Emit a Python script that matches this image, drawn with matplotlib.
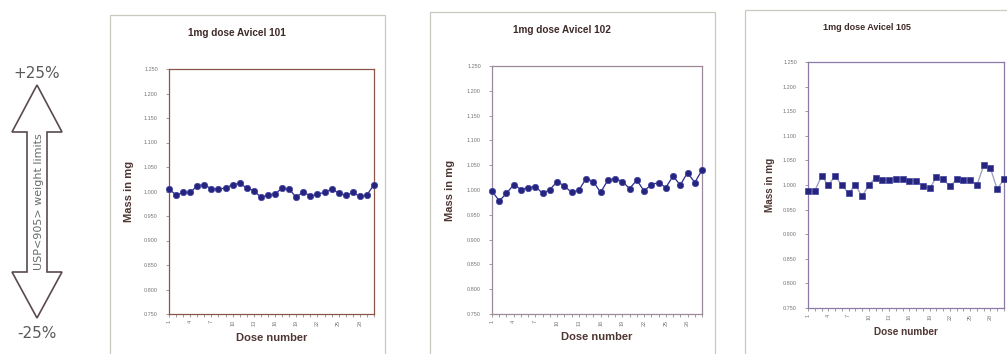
import numpy as np
import matplotlib.pyplot as plt
from matplotlib.patches import Polygon, Rectangle
from matplotlib.ticker import FixedLocator, FormatStrFormatter

# Data (mass per dose, mg)
doses = list(range(1, 31))
avicel_101 = [1.005, 0.993, 0.998, 0.998, 1.012, 1.014, 1.005, 1.005, 1.007, 1.014,
              1.017, 1.007, 1.002, 0.988, 0.993, 0.995, 1.007, 1.005, 0.988, 1.000,
              0.990, 0.995, 0.998, 1.005, 0.997, 0.992, 0.998, 0.990, 0.993, 1.014]
avicel_102 = [0.998, 0.978, 0.993, 1.011, 1.001, 1.005, 1.007, 0.993, 1.001, 1.017,
              1.008, 0.995, 1.000, 1.023, 1.017, 0.995, 1.020, 1.023, 1.017, 1.003,
              1.020, 0.998, 1.011, 1.015, 1.005, 1.028, 1.010, 1.035, 1.015, 1.040]
avicel_105 = [0.988, 0.988, 1.018, 1.000, 1.018, 1.000, 0.983, 1.000, 0.977, 1.000,
              1.015, 1.010, 1.011, 1.013, 1.012, 1.008, 1.009, 0.998, 0.993, 1.016,
              1.012, 0.997, 1.012, 1.010, 1.010, 1.000, 1.040, 1.034, 0.991, 1.013]
titles = ['1mg dose Avicel 101', '1mg dose Avicel 102', '1mg dose Avicel 105']
xtick_labels = [1, 4, 7, 10, 13, 16, 19, 22, 25, 28]
yticks = [0.75, 0.80, 0.85, 0.90, 0.95, 1.00, 1.05, 1.10, 1.15, 1.20, 1.25]

plt.rcParams['font.family'] = ['Liberation Sans', 'DejaVu Sans']

W, H = 1007, 354
fig = plt.figure(figsize=(W / 100, H / 100), dpi=100)

def fx(px):
    return px / W

def fy(py):
    return 1 - py / H

# chart frames (outer borders, bottom edge runs off the picture)
frames = [(110, 15, 385), (430, 12, 715), (745, 10, 1010)]
for l, t, r in frames:
    fig.patches.append(Rectangle((fx(l), -0.05), fx(r) - fx(l), fy(t) + 0.05,
                                 transform=fig.transFigure, fill=False,
                                 edgecolor='#c9c9c2', linewidth=0.9))

# plot areas: left, top, right, bottom in pixels
areas = [(169, 69, 374, 314), (492, 66, 702, 314), (808, 62, 1004, 308)]
series = [avicel_101, avicel_102, avicel_105]
markers = ['o', 'o', 's']
line_colors = ['#2b2b86', '#2b2b86', '#9a9abc']
spine_colors = ['#8a5544', '#9a8a9a', '#8a7aa8']
title_pos = [(237, 33), (562, 30), (867, 27)]
title_size = [7.2, 7.2, 6.5]
ylab_x = [129, 450, 770]
xlab_y = [338, 337, 332]
lab_size = [8, 8, 7.2]

for i in range(3):
    l, t, r, b = areas[i]
    ax = fig.add_axes([fx(l), fy(b), fx(r) - fx(l), fy(t) - fy(b)])
    ax.plot(doses, series[i], color=line_colors[i], linewidth=0.9, zorder=2, clip_on=False)
    ax.plot(doses, series[i], linestyle='none', marker=markers[i],
            markersize=4.6 if i < 2 else 4.4, color='#25257f',
            markeredgecolor='#4040a0', markeredgewidth=0.5, zorder=3, clip_on=False)
    ax.set_xlim(1, 30)
    ax.set_ylim(0.75, 1.25)
    ax.set_yticks(yticks)
    ax.yaxis.set_major_formatter(FormatStrFormatter('%.3f'))
    ax.set_xticks(xtick_labels)
    ax.xaxis.set_minor_locator(FixedLocator(doses))
    ax.tick_params(axis='both', which='both', direction='out', length=2, width=0.5,
                   color='#777777', labelsize=4, labelcolor='#777777', pad=2)
    ax.tick_params(axis='x', labelrotation=90)
    ax.tick_params(axis='y', pad=6)
    for s in ax.spines.values():
        s.set_color(spine_colors[i])
        s.set_linewidth(0.9)
    fig.text(fx(title_pos[i][0]), fy(title_pos[i][1]), titles[i], ha='center', va='center',
             fontsize=title_size[i], fontweight='bold', color='#3e2a28')
    fig.text(fx(ylab_x[i]), fy((t + b) / 2), 'Mass in mg', rotation=90, ha='center', va='center',
             fontsize=lab_size[i], fontweight='bold', color='#4e3632')
    fig.text(fx((l + r) / 2), fy(xlab_y[i]), 'Dose number', ha='center', va='center',
             fontsize=lab_size[i], fontweight='bold', color='#4e3632')

# hollow double arrow showing the USP limits
cx = 37
arrow_px = [(cx, 85), (cx + 25, 132), (cx + 10, 132), (cx + 10, 272), (cx + 25, 272),
            (cx, 318), (cx - 25, 272), (cx - 10, 272), (cx - 10, 132), (cx - 25, 132)]
fig.patches.append(Polygon([(fx(x), fy(y)) for x, y in arrow_px], closed=True,
                           transform=fig.transFigure, facecolor='white',
                           edgecolor='#5a4a50', linewidth=1.2, joinstyle='miter'))
fig.text(fx(39), fy(202), 'USP<905> weight limits', rotation=90, ha='center', va='center',
         fontsize=8, color='#6a6a6a', family=['DejaVu Sans'])
fig.text(fx(cx), fy(73), '+25%', ha='center', va='center', fontsize=11, color='#5a5a5a',
         family=['DejaVu Sans'])
fig.text(fx(cx), fy(333), '-25%', ha='center', va='center', fontsize=11, color='#5a5a5a',
         family=['DejaVu Sans'])

fig.savefig('out.png', dpi=100, facecolor='white')
